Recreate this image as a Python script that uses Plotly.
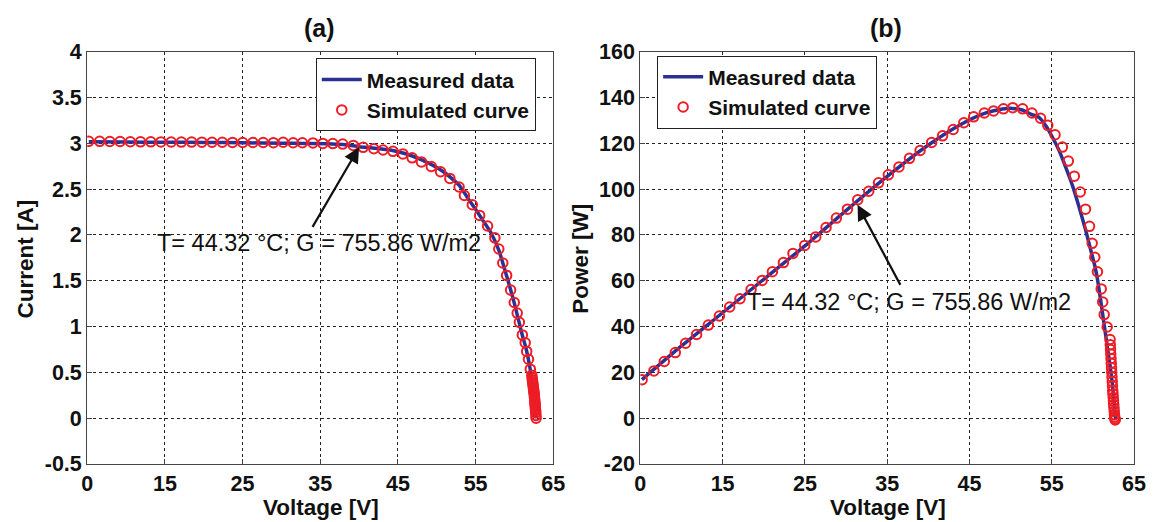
import plotly.graph_objects as go

# ---------------- data ----------------
x_tick_vals = [5, 15, 25, 35, 45, 55, 65]
x_tick_text = ["0", "15", "25", "35", "45", "55", "65"]
y1_tick_vals = [-0.5, 0, 0.5, 1, 1.5, 2, 2.5, 3, 3.5, 4]
y1_tick_text = ["-0.5", "0", "0.5", "1", "1.5", "2", "2.5", "3", "3.5", "4"]
y2_tick_vals = [-20, 0, 20, 40, 60, 80, 100, 120, 140, 160]
y2_tick_text = ["-20", "0", "20", "40", "60", "80", "100", "120", "140", "160"]

# (a) I-V : measured data (line)
v_meas_iv = [5.2, 10, 15, 20, 25, 30, 33, 36, 38, 40, 42, 44, 46, 48, 50, 51, 52, 53,
             54, 55, 56, 57, 58, 59, 60, 61, 61.5, 62, 62.4, 62.8]
i_meas = [3.015, 3.012, 3.01, 3.008, 3.005, 3.0, 2.998, 2.995, 2.985, 2.962, 2.945, 2.925,
          2.885, 2.82, 2.735, 2.68, 2.61, 2.53, 2.40, 2.28, 2.15, 2.02, 1.83, 1.55, 1.25,
          0.91, 0.76, 0.55, 0.30, 0.0]

# (a) I-V : simulated curve (circles)
v_sim_iv = [5.19, 6.60, 7.91, 9.23, 10.55, 11.86, 13.18, 14.49, 15.81, 17.12, 18.44, 19.76,
            21.07, 22.39, 23.70, 25.02, 26.33, 27.65, 28.97, 30.23, 31.51, 32.70, 34.06,
            35.34, 36.62, 37.89, 39.26, 40.53, 41.90, 43.09, 44.36, 45.64, 46.83, 48.03,
            49.30, 50.49, 51.69, 52.88, 53.56, 54.58, 55.52, 56.54, 57.48, 57.99, 58.50,
            59.00, 59.51, 59.98, 60.36, 60.64, 61.02, 61.39, 61.58, 61.81, 62.05, 62.24,
            62.28, 62.31, 62.34, 62.37, 62.40, 62.43, 62.46, 62.49, 62.52, 62.55, 62.57,
            62.59, 62.61, 62.63, 62.65, 62.67, 62.69, 62.71, 62.73, 62.75, 62.77, 62.79]
i_sim = [3.02, 3.02, 3.018, 3.018, 3.016, 3.015, 3.015, 3.014, 3.013, 3.012, 3.012, 3.011,
         3.01, 3.01, 3.009, 3.008, 3.008, 3.007, 3.006, 3.01, 3.005, 3.005, 3.003,
         2.998, 2.996, 2.99, 2.976, 2.955, 2.94, 2.926, 2.911, 2.883, 2.84, 2.796,
         2.746, 2.688, 2.616, 2.522, 2.429, 2.328, 2.212, 2.097, 1.967, 1.845, 1.693,
         1.557, 1.398, 1.262, 1.146, 1.045, 0.908, 0.822, 0.728, 0.642, 0.534, 0.469,
         0.44, 0.42, 0.40, 0.38, 0.36, 0.34, 0.32, 0.30, 0.28, 0.26, 0.24,
         0.22, 0.20, 0.18, 0.16, 0.14, 0.12, 0.10, 0.08, 0.06, 0.03, 0.0]

# (b) P-V : measured data (line)
v_meas_pv = [5.2, 10, 15, 20, 25, 30, 35, 40, 44, 47, 49, 50.2, 51.4, 52.5, 53.48, 54.28,
             55.08, 55.89, 56.69, 57.5, 58.3, 59.1, 59.71, 60.23, 60.55, 61.0, 61.4, 61.8,
             62.2, 62.5, 62.75]
p_meas = [16.8, 31.5, 46.0, 60.6, 75.2, 90.6, 105.5, 119.2, 128.3, 133.2, 134.9, 135.2,
          134.5, 132.6, 131.2, 127.6, 122.6, 116.8, 109.6, 101.7, 92.4, 82.3, 73.7, 66.5,
          60.7, 50.0, 40.0, 30.0, 20.0, 10.0, 0.0]

# (b) P-V : simulated curve (circles)
v_sim_pv = [5.22, 6.65, 7.91, 9.25, 10.50, 11.84, 13.27, 14.61, 15.86, 17.11, 18.46, 19.80,
            21.05, 22.39, 23.55, 24.98, 26.32, 27.57, 28.83, 30.17, 31.42, 32.76, 33.95,
            35.14, 36.43, 37.71, 39.00, 40.40, 41.73, 43.02, 44.31, 45.51, 46.80, 47.93,
            49.13, 50.26, 51.46, 52.59, 53.64, 54.52, 55.40, 56.29, 57.01, 57.74, 58.46,
            59.10, 59.59, 59.91, 60.23, 60.55, 61.01, 61.19, 61.37, 61.73, 62.09,
            62.11, 62.14, 62.17, 62.20, 62.23, 62.26, 62.29, 62.32, 62.35, 62.38, 62.41,
            62.44, 62.47, 62.50, 62.53, 62.56, 62.59, 62.62, 62.65, 62.68, 62.71]
p_sim = [16.8, 20.6, 24.7, 28.6, 32.7, 36.5, 40.6, 44.6, 48.5, 52.1, 56.1, 60.1,
         63.9, 67.9, 71.9, 75.4, 79.1, 83.2, 87.3, 91.2, 95.3, 99.0, 102.7,
         106.2, 109.6, 113.4, 116.8, 120.3, 123.2, 126.0, 128.9, 131.5, 133.2, 134.1,
         135.0, 135.5, 135.0, 133.2, 130.9, 127.8, 123.7, 118.3, 112.2, 105.6, 98.7,
         91.2, 83.7, 76.3, 70.2, 63.9, 56.4, 50.7, 45.2, 39.8, 34.3,
         32.0, 30.0, 28.0, 26.0, 24.0, 22.0, 20.0, 18.0, 16.0, 14.0, 12.0,
         10.5, 9.0, 7.5, 6.0, 4.5, 3.0, 1.5, 0.5, -0.3, -0.8]

annot_text = "T= 44.32 °C; G = 755.86 W/m2"

# ---------------- styling ----------------
FONT = "Liberation Sans, Arial, sans-serif"
BLUE = "#2B3192"
RED = "#EE1C25"
W, H = 1161, 522


# the page is shown slightly offset/scaled: convert target picture pixels to layout pixels
def fx(px):
    return (px - 10) / 0.995 / W


def fy(py):
    return 1 - (py - 17) / 0.967 / H


def bold(lst):
    return ["<b>%s</b>" % t for t in lst]


fig = go.Figure()

fig.add_trace(go.Scatter(x=v_meas_iv, y=i_meas, mode="lines", name="Measured data",
                         line=dict(color=BLUE, width=3.5, shape="spline", smoothing=0.6),
                         xaxis="x", yaxis="y", legend="legend"))
fig.add_trace(go.Scatter(x=v_sim_iv, y=i_sim, mode="markers", name="Simulated curve",
                         marker=dict(symbol="circle-open", size=9.5, color=RED,
                                     line=dict(width=2, color=RED)),
                         xaxis="x", yaxis="y", legend="legend"))
fig.add_trace(go.Scatter(x=v_meas_pv, y=p_meas, mode="lines", name="Measured data",
                         line=dict(color=BLUE, width=3.5, shape="spline", smoothing=0.6),
                         xaxis="x2", yaxis="y2", legend="legend2"))
fig.add_trace(go.Scatter(x=v_sim_pv, y=p_sim, mode="markers", name="Simulated curve",
                         marker=dict(symbol="circle-open", size=9.5, color=RED,
                                     line=dict(width=2, color=RED)),
                         xaxis="x2", yaxis="y2", legend="legend2"))

left_dom = [fx(84), fx(555)]
right_dom = [fx(643), fx(1142)]
y_dom = [fy(468), fy(50)]

axis_common = dict(showgrid=True, gridcolor="#222222", griddash="dot", gridwidth=1,
                   zeroline=False, showline=True, linecolor="#444444", linewidth=1.2,
                   mirror=True, ticks="inside", ticklen=5, tickcolor="#444444",
                   tickfont=dict(family=FONT, size=21.5, color="#111111"))

legend_font = dict(family=FONT, size=21, color="#111111", weight="bold")

fig.update_layout(
    width=W, height=H,
    margin=dict(l=0, r=0, t=0, b=0),
    paper_bgcolor="white", plot_bgcolor="white",
    xaxis=dict(domain=left_dom, range=[5, 65], tickvals=x_tick_vals, ticktext=bold(x_tick_text),
               anchor="y", **axis_common),
    yaxis=dict(domain=y_dom, range=[-0.5, 4], tickvals=y1_tick_vals, ticktext=bold(y1_tick_text),
               anchor="x", **axis_common),
    xaxis2=dict(domain=right_dom, range=[5, 65], tickvals=x_tick_vals, ticktext=bold(x_tick_text),
                anchor="y2", **axis_common),
    yaxis2=dict(domain=y_dom, range=[-20, 160], tickvals=y2_tick_vals, ticktext=bold(y2_tick_text),
                anchor="x2", **axis_common),
    legend=dict(x=fx(315), y=fy(57), xanchor="left", yanchor="top",
                bgcolor="white", bordercolor="#222222", borderwidth=1,
                font=legend_font, tracegroupgap=0, itemwidth=40),
    legend2=dict(x=fx(660), y=fy(54), xanchor="left", yanchor="top",
                 bgcolor="white", bordercolor="#222222", borderwidth=1,
                 font=legend_font, tracegroupgap=0, itemwidth=40),
    showlegend=True,
)

title_font = dict(family=FONT, size=25, color="#111111", weight="bold")
label_font = dict(family=FONT, size=22.5, color="#111111", weight="bold")
ann_font = dict(family=FONT, size=23.5, color="#111111")

annotations = [
    dict(text="<b>(a)</b>", x=fx(319), y=fy(26), xref="paper", yref="paper",
         xanchor="center", yanchor="middle", showarrow=False, font=title_font),
    dict(text="<b>(b)</b>", x=fx(891), y=fy(26), xref="paper", yref="paper",
         xanchor="center", yanchor="middle", showarrow=False, font=title_font),
    dict(text="<b>Voltage [V]</b>", x=fx(320), y=fy(512), xref="paper", yref="paper",
         xanchor="center", yanchor="middle", showarrow=False, font=label_font),
    dict(text="<b>Voltage [V]</b>", x=fx(893), y=fy(512), xref="paper", yref="paper",
         xanchor="center", yanchor="middle", showarrow=False, font=label_font),
    dict(text="<b>Current [A]</b>", x=fx(22), y=fy(260), xref="paper", yref="paper",
         xanchor="center", yanchor="middle", showarrow=False, textangle=-90, font=label_font),
    dict(text="<b>Power [W]</b>", x=fx(583), y=fy(260), xref="paper", yref="paper",
         xanchor="center", yanchor="middle", showarrow=False, textangle=-90, font=label_font),
    # arrows
    dict(x=40.0, y=2.955, ax=33.9, ay=2.07, xref="x", yref="y", axref="x", ayref="y",
         text="", showarrow=True, arrowhead=2, arrowsize=1.4, arrowwidth=2.2, arrowcolor="#111111"),
    dict(x=31.4, y=93.1, ax=36.7, ay=57.5, xref="x2", yref="y2", axref="x2", ayref="y2",
         text="", showarrow=True, arrowhead=2, arrowsize=1.4, arrowwidth=2.2, arrowcolor="#111111"),
    # annotation texts
    dict(text=annot_text, x=34.9, y=1.91, xref="x", yref="y", showarrow=False, font=ann_font),
    dict(text=annot_text, x=37.6, y=50.8, xref="x2", yref="y2", showarrow=False, font=ann_font),
]
fig.update_layout(annotations=annotations)

fig.write_html("out.html")
